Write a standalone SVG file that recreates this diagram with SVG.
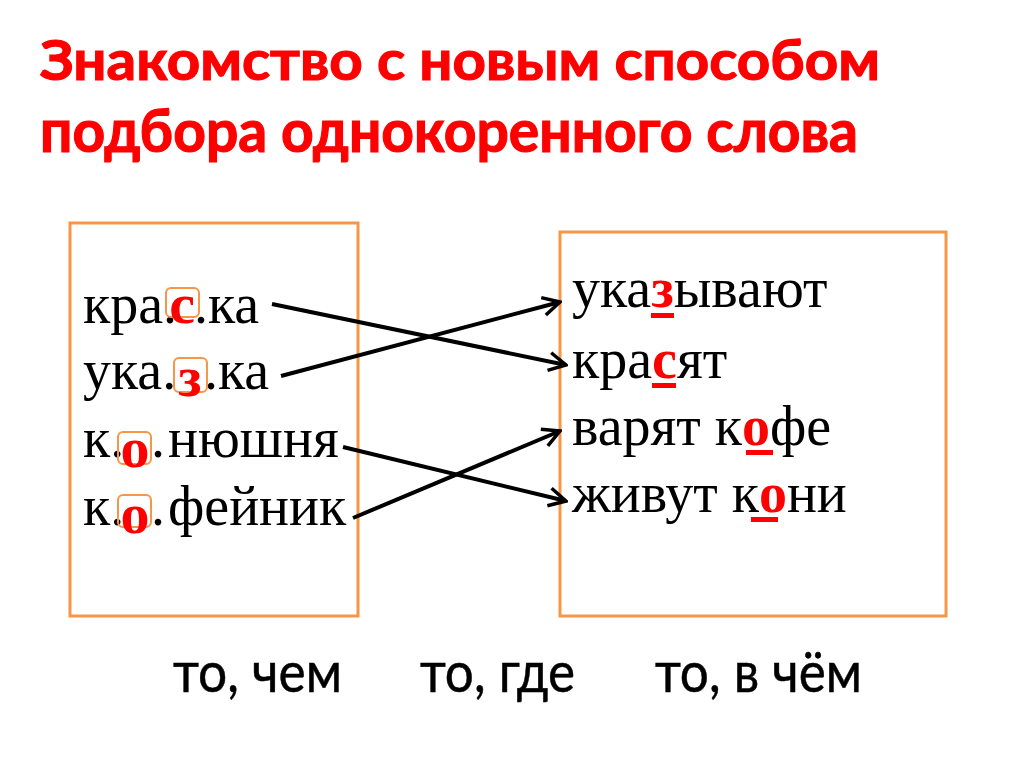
<svg xmlns="http://www.w3.org/2000/svg" width="1024" height="767" viewBox="0 0 1024 767">
<style>
.title{font-family:Lato,"Open Sans","Liberation Sans",sans-serif;font-weight:bold;fill:#FF0000;stroke:#FF0000;stroke-width:1.2}
.frame{fill:none;stroke:#F79646;stroke-width:3}
.w{font-family:"Liberation Serif","Times New Roman",serif;font-size:56px;fill:#000}
.r{font-family:"Liberation Serif","Times New Roman",serif;font-weight:bold;fill:#FF0000}
.slot{fill:none;stroke:#F79646;stroke-width:2}
.ul{fill:#FF0000}
.lab{font-family:Lato,"Open Sans","Liberation Sans",sans-serif;font-size:56px;fill:#000;stroke:#000;stroke-width:0.5}
.arr{fill:none;stroke:#000;stroke-width:4;marker-end:url(#ah)}
</style>
<defs>
<marker id="ah" viewBox="0 0 22 22" refX="20" refY="11" markerWidth="22" markerHeight="22" markerUnits="userSpaceOnUse" orient="auto">
<path d="M3,2 L20,11 L3,20" fill="none" stroke="#000" stroke-width="3.5"/>
</marker>
</defs>
<rect width="1024" height="767" fill="#fff"/>
<g id="title">
<text class="title" x="40" y="80" font-size="56" textLength="840" lengthAdjust="spacingAndGlyphs">Знакомство с новым способом</text>
<text class="title" x="40" y="152" font-size="60" textLength="818" lengthAdjust="spacingAndGlyphs">подбора однокоренного слова</text>
</g>
<g id="left-box">
<rect class="frame" x="70" y="223" width="288" height="393"/>
<text class="w" y="323"><tspan x="83">кра.</tspan><tspan x="194">.ка</tspan></text>
<rect class="slot" x="166" y="288" width="33" height="29" rx="5"/>
<text class="r" x="182" y="323" font-size="58" text-anchor="middle">с</text>

<text class="w" y="389"><tspan x="83">ука.</tspan><tspan x="204">.ка</tspan></text>
<rect class="slot" x="174" y="358" width="33" height="34" rx="5"/>
<text class="r" x="190" y="396" font-size="58" text-anchor="middle">з</text>

<text class="w" y="457"><tspan x="83">к.</tspan><tspan x="151">.</tspan><tspan x="168">нюшня</tspan></text>
<rect class="slot" x="118" y="432" width="33" height="32" rx="5"/>
<text class="r" x="135" y="467" font-size="58" text-anchor="middle">о</text>

<text class="w" y="525"><tspan x="83">к.</tspan><tspan x="151">.</tspan><tspan x="168">фейник</tspan></text>
<rect class="slot" x="118" y="495" width="33" height="32" rx="5"/>
<text class="r" x="135" y="533" font-size="58" text-anchor="middle">о</text>
</g>
<g id="right-box">
<rect class="frame" x="560" y="232" width="386" height="384"/>
<text class="w" x="572" y="307">ука<tspan class="r">з</tspan>ывают</text>
<rect class="ul" x="651" y="313" width="23" height="5"/>
<text class="w" x="572" y="378">кра<tspan class="r">с</tspan>ят</text>
<rect class="ul" x="652" y="383" width="24" height="5"/>
<text class="w" x="572" y="445">варят к<tspan class="r">о</tspan>фе</text>
<rect class="ul" x="746" y="450" width="27" height="5"/>
<text class="w" x="572" y="512">живут к<tspan class="r">о</tspan>ни</text>
<rect class="ul" x="751" y="517" width="27" height="5"/>
</g>
<g id="connectors">
<line class="arr" x1="272" y1="304" x2="566" y2="365"/>
<line class="arr" x1="281" y1="376" x2="560" y2="302"/>
<line class="arr" x1="343" y1="447" x2="566" y2="501"/>
<line class="arr" x1="353" y1="518" x2="560" y2="431"/>
</g>
<g id="labels">
<text class="lab" x="173" y="692" textLength="169" lengthAdjust="spacingAndGlyphs">то, чем</text>
<text class="lab" x="420" y="692" textLength="155" lengthAdjust="spacingAndGlyphs">то, где</text>
<text class="lab" x="655" y="692" textLength="207" lengthAdjust="spacingAndGlyphs">то, в чём</text>
</g>
</svg>
